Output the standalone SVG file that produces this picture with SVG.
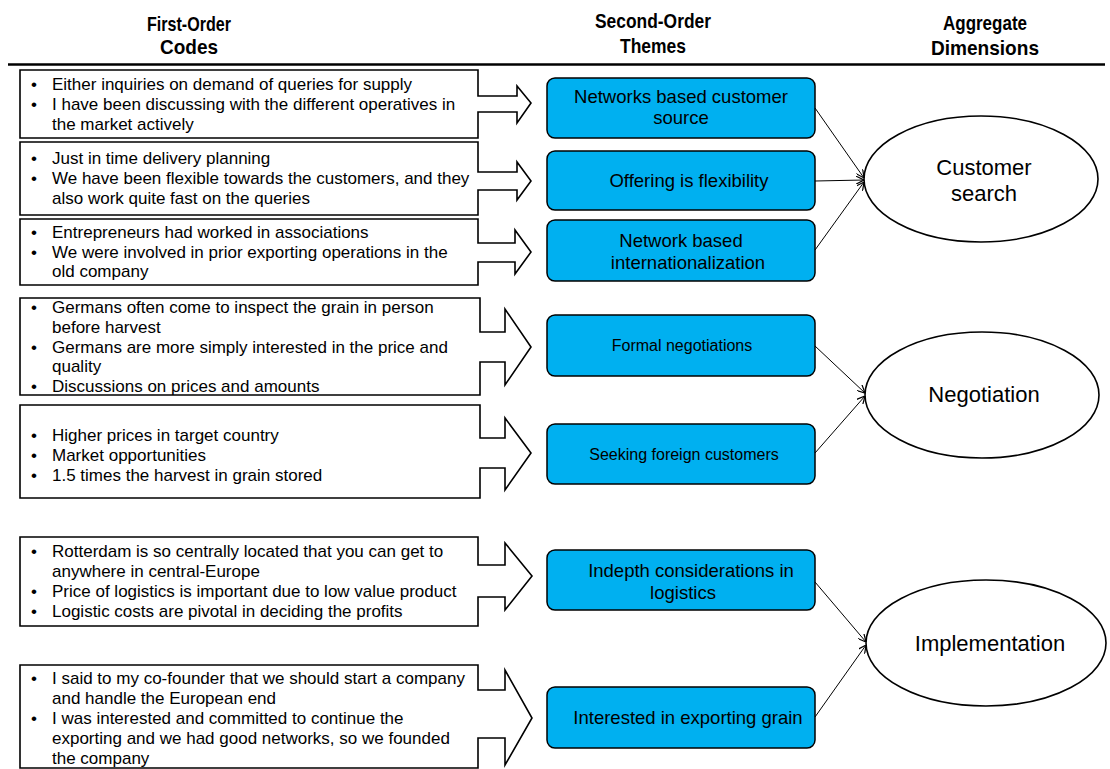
<svg xmlns="http://www.w3.org/2000/svg" width="1110" height="769" viewBox="0 0 1110 769">
<defs>
<style>
.hdr{font-family:"Liberation Sans",Arial,sans-serif;font-weight:bold;font-size:21px;text-anchor:middle;fill:#000}
.code{fill:#fff;stroke:#000;stroke-width:1.6}
.ct{font-family:"Liberation Sans",Arial,sans-serif;font-size:17px;fill:#000}
.theme{fill:#00B0F0;stroke:#000;stroke-width:1.5}
.tt{font-family:"Liberation Sans",Arial,sans-serif;font-size:18.5px;text-anchor:middle;fill:#000}
.ts{font-family:"Liberation Sans",Arial,sans-serif;font-size:16px;text-anchor:middle;fill:#000}
.dim{fill:#fff;stroke:#000;stroke-width:1.6}
.dt{font-family:"Liberation Sans",Arial,sans-serif;font-size:22px;text-anchor:middle;fill:#000}
.con{stroke:#000;stroke-width:1;fill:none;marker-end:url(#ah)}
</style>
<marker id="ah" viewBox="0 0 10 10" refX="10" refY="5" markerWidth="8" markerHeight="8" markerUnits="userSpaceOnUse" orient="auto">
<path d="M0,0 L10,5 L0,10" fill="none" stroke="#000" stroke-width="1.5"/>
</marker>
</defs>
<rect width="1110" height="769" fill="#fff"/>
<g id="headers">
<text class="hdr" x="189" y="31" textLength="84" lengthAdjust="spacingAndGlyphs">First-Order</text>
<text class="hdr" x="189" y="54" textLength="58" lengthAdjust="spacingAndGlyphs">Codes</text>
<text class="hdr" x="653" y="28" textLength="116" lengthAdjust="spacingAndGlyphs">Second-Order</text>
<text class="hdr" x="653" y="53" textLength="66" lengthAdjust="spacingAndGlyphs">Themes</text>
<text class="hdr" x="985" y="30" textLength="84" lengthAdjust="spacingAndGlyphs">Aggregate</text>
<text class="hdr" x="985" y="55" textLength="108" lengthAdjust="spacingAndGlyphs">Dimensions</text>
<line x1="8" y1="64.5" x2="1105" y2="64.5" stroke="#000" stroke-width="2.5"/>
</g>
<g id="code1">
<path class="code" d="M20,70 H478 V96 H517 V86 L531,103 L517,123 V112 H478 V138 H20 Z"/>
<text class="ct" x="31" y="90">•</text><text class="ct" x="52" y="90">Either inquiries on demand of queries for supply</text>
<text class="ct" x="31" y="110">•</text><text class="ct" x="52" y="110">I have been discussing with the different operatives in</text>
<text class="ct" x="52" y="130">the market actively</text>
</g>
<g id="code2">
<path class="code" d="M20,142 H478 V172 H517 V162 L531,181 L517,200 V190 H478 V215 H20 Z"/>
<text class="ct" x="31" y="164">•</text><text class="ct" x="52" y="164">Just in time delivery planning</text>
<text class="ct" x="31" y="184">•</text><text class="ct" x="52" y="184">We have been flexible towards the customers, and they</text>
<text class="ct" x="52" y="204">also work quite fast on the queries</text>
</g>
<g id="code3">
<path class="code" d="M20,219 H478 V243 H515 V230 L531,252 L515,274 V262 H478 V285 H20 Z"/>
<text class="ct" x="31" y="238">•</text><text class="ct" x="52" y="238">Entrepreneurs had worked in associations</text>
<text class="ct" x="31" y="258">•</text><text class="ct" x="52" y="258">We were involved in prior exporting operations in the</text>
<text class="ct" x="52" y="277">old company</text>
</g>
<g id="code4">
<path class="code" d="M20,298 H480 V332 H505 V309 L531,347 L505,385 V362 H480 V395 H20 Z"/>
<text class="ct" x="31" y="313">•</text><text class="ct" x="52" y="313">Germans often come to inspect the grain in person</text>
<text class="ct" x="52" y="333">before harvest</text>
<text class="ct" x="31" y="353">•</text><text class="ct" x="52" y="353">Germans are more simply interested in the price and</text>
<text class="ct" x="52" y="372">quality</text>
<text class="ct" x="31" y="392">•</text><text class="ct" x="52" y="392">Discussions on prices and amounts</text>
</g>
<g id="code5">
<path class="code" d="M20,405 H480 V438 H505 V418 L531,453 L505,490 V468 H480 V498 H20 Z"/>
<text class="ct" x="31" y="441">•</text><text class="ct" x="52" y="441">Higher prices in target country</text>
<text class="ct" x="31" y="461">•</text><text class="ct" x="52" y="461">Market opportunities</text>
<text class="ct" x="31" y="481">•</text><text class="ct" x="52" y="481">1.5 times the harvest in grain stored</text>
</g>
<g id="code6">
<path class="code" d="M20,537 H478 V565 H505 V543 L532,576 L505,610 V597 H478 V626 H20 Z"/>
<text class="ct" x="31" y="557">•</text><text class="ct" x="52" y="557">Rotterdam is so centrally located that you can get to</text>
<text class="ct" x="52" y="577">anywhere in central-Europe</text>
<text class="ct" x="31" y="597">•</text><text class="ct" x="52" y="597">Price of logistics is important due to low value product</text>
<text class="ct" x="31" y="617">•</text><text class="ct" x="52" y="617">Logistic costs are pivotal in deciding the profits</text>
</g>
<g id="code7">
<path class="code" d="M20,665 H478 V690 H505 V670 L532,718 L505,765 V738 H478 V768 H20 Z"/>
<text class="ct" x="31" y="684">•</text><text class="ct" x="52" y="684">I said to my co-founder that we should start a company</text>
<text class="ct" x="52" y="704">and handle the European end</text>
<text class="ct" x="31" y="724">•</text><text class="ct" x="52" y="724">I was interested and committed to continue the</text>
<text class="ct" x="52" y="744">exporting and we had good networks, so we founded</text>
<text class="ct" x="52" y="764">the company</text>
</g>
<g id="theme1"><rect class="theme" x="547" y="78" width="268" height="60" rx="8"/>
<text class="tt" x="681" y="103">Networks based customer</text><text class="tt" x="681" y="124">source</text></g>
<g id="theme2"><rect class="theme" x="547" y="151" width="268" height="59" rx="8"/>
<text class="tt" x="689" y="187">Offering is flexibility</text></g>
<g id="theme3"><rect class="theme" x="547" y="220" width="268" height="61" rx="8"/>
<text class="tt" x="681" y="247">Network based</text><text class="tt" x="688" y="269">internationalization</text></g>
<g id="theme4"><rect class="theme" x="547" y="315" width="268" height="61" rx="8"/>
<text class="ts" x="682" y="351">Formal negotiations</text></g>
<g id="theme5"><rect class="theme" x="547" y="424" width="268" height="60" rx="8"/>
<text class="ts" x="684" y="460">Seeking foreign customers</text></g>
<g id="theme6"><rect class="theme" x="547" y="550" width="268" height="60" rx="8"/>
<text class="tt" x="691" y="577">Indepth considerations in</text><text class="tt" x="683" y="599">logistics</text></g>
<g id="theme7"><rect class="theme" x="547" y="687" width="268" height="61" rx="8"/>
<text class="tt" x="688" y="724">Interested in exporting grain</text></g>
<g id="dim1"><ellipse class="dim" cx="981" cy="179" rx="117" ry="63"/>
<text class="dt" x="984" y="175">Customer</text><text class="dt" x="984" y="201">search</text></g>
<g id="dim2"><ellipse class="dim" cx="982" cy="395" rx="117" ry="63"/>
<text class="dt" x="984" y="402">Negotiation</text></g>
<g id="dim3"><ellipse class="dim" cx="986" cy="643" rx="120" ry="63"/>
<text class="dt" x="990" y="651">Implementation</text></g>
<g id="connectors">
<line class="con" x1="815" y1="108" x2="864" y2="178"/>
<line class="con" x1="815" y1="181" x2="864" y2="180"/>
<line class="con" x1="815" y1="250" x2="864" y2="182"/>
<line class="con" x1="815" y1="346" x2="865" y2="393"/>
<line class="con" x1="815" y1="453" x2="865" y2="396"/>
<line class="con" x1="815" y1="582" x2="866" y2="642"/>
<line class="con" x1="815" y1="717" x2="866" y2="645"/>
</g>
</svg>
